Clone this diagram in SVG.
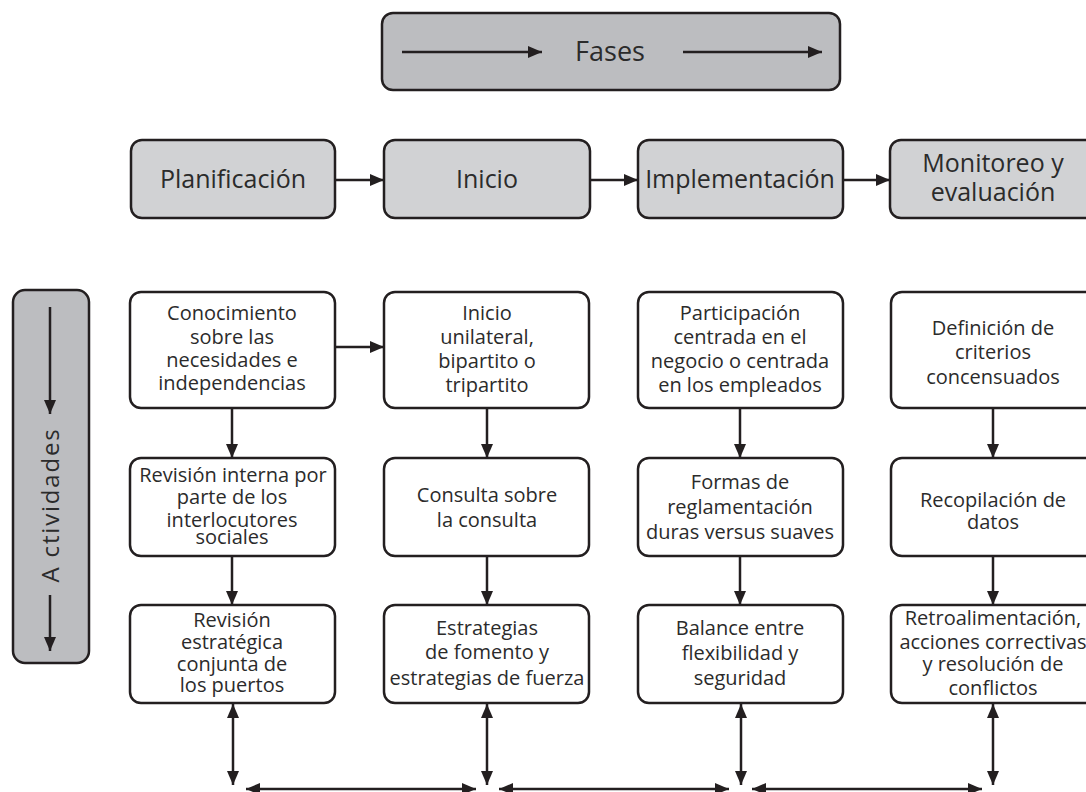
<svg xmlns="http://www.w3.org/2000/svg" width="1086" height="792" viewBox="0 0 1086 792">
  <defs>
    <marker id="head" markerUnits="userSpaceOnUse" markerWidth="15" markerHeight="13" refX="14" refY="6.5" orient="auto-start-reverse">
      <path d="M0,0.5 L14,6.5 L0,12.5 z" fill="#231f20"/>
    </marker>
    <style>
      .box { fill: #ffffff; stroke: #231f20; stroke-width: 2.5; }
      .phase { fill: #d1d2d4; stroke: #231f20; stroke-width: 2.5; }
      .banner { fill: #bcbdc0; stroke: #231f20; stroke-width: 2.5; }
      .t { font-family: "Open Sans", "Liberation Sans", sans-serif; fill: #2b2b2b; text-anchor: middle; }
      .big { font-size: 25px; }
      .small { font-size: 20px; }
      .link { stroke: #231f20; stroke-width: 2.5; fill: none; marker-end: url(#head); }
      .both { stroke: #231f20; stroke-width: 2.5; fill: none; marker-start: url(#head); marker-end: url(#head); }
    </style>
  </defs>

  <!-- Phase banner -->
  <g id="fases">
    <rect class="banner" x="382" y="13" width="458" height="77" rx="11"/>
    <line class="link" x1="402" y1="52" x2="542" y2="52"/>
    <line class="link" x1="683" y1="52" x2="822" y2="52"/>
    <text class="t" font-size="27" x="610" y="61">Fases</text>
  </g>

  <!-- Activities banner -->
  <g id="actividades">
    <rect class="banner" x="13" y="290" width="76" height="373" rx="12"/>
    <line class="link" x1="50" y1="307" x2="50" y2="414"/>
    <line class="link" x1="50" y1="595" x2="50" y2="651"/>
    <text class="t" font-size="24" letter-spacing="1.8" transform="translate(59,505) rotate(-90)">A ctividades</text>
  </g>

  <!-- Phases -->
  <g id="planificacion">
    <rect class="phase" x="131" y="140" width="204" height="78" rx="11"/>
    <text class="t big" x="233" y="188">Planificación</text>
  </g>
  <g id="inicio">
    <rect class="phase" x="384" y="140" width="206" height="78" rx="11"/>
    <text class="t big" x="487" y="188">Inicio</text>
  </g>
  <g id="implementacion">
    <rect class="phase" x="638" y="140" width="205" height="78" rx="11"/>
    <text class="t big" x="740" y="188">Implementación</text>
  </g>
  <g id="monitoreo">
    <rect class="phase" x="890" y="140" width="206" height="78" rx="11"/>
    <text class="t big" x="993" y="172">Monitoreo y</text>
    <text class="t big" x="993" y="201">evaluación</text>
  </g>

  <!-- Activities, row 1 -->
  <g id="conocimiento">
    <rect class="box" x="130" y="292" width="205" height="116" rx="11"/>
    <text class="t small" x="232" y="320">Conocimiento</text>
    <text class="t small" x="232" y="344">sobre las</text>
    <text class="t small" x="232" y="367">necesidades e</text>
    <text class="t small" x="232" y="390">independencias</text>
  </g>
  <g id="inicio-unilateral">
    <rect class="box" x="384" y="292" width="205" height="116" rx="11"/>
    <text class="t small" x="487" y="320">Inicio</text>
    <text class="t small" x="487" y="344">unilateral,</text>
    <text class="t small" x="487" y="368">bipartito o</text>
    <text class="t small" x="487" y="392">tripartito</text>
  </g>
  <g id="participacion">
    <rect class="box" x="638" y="292" width="205" height="116" rx="11"/>
    <text class="t small" x="740" y="320">Participación</text>
    <text class="t small" x="740" y="344">centrada en el</text>
    <text class="t small" x="740" y="368">negocio o centrada</text>
    <text class="t small" x="740" y="392">en los empleados</text>
  </g>
  <g id="definicion">
    <rect class="box" x="891" y="292" width="205" height="116" rx="11"/>
    <text class="t small" x="993" y="335">Definición de</text>
    <text class="t small" x="993" y="359">criterios</text>
    <text class="t small" x="993" y="384">concensuados</text>
  </g>

  <!-- Activities, row 2 -->
  <g id="revision-interna">
    <rect class="box" x="130" y="458" width="205" height="98" rx="11"/>
    <text class="t small" x="233" y="482">Revisión interna por</text>
    <text class="t small" x="232" y="504">parte de los</text>
    <text class="t small" x="232" y="527">interlocutores</text>
    <text class="t small" x="232" y="544">sociales</text>
  </g>
  <g id="consulta">
    <rect class="box" x="384" y="458" width="205" height="98" rx="11"/>
    <text class="t small" x="487" y="502">Consulta sobre</text>
    <text class="t small" x="487" y="527">la consulta</text>
  </g>
  <g id="formas">
    <rect class="box" x="638" y="458" width="205" height="98" rx="11"/>
    <text class="t small" x="740" y="489">Formas de</text>
    <text class="t small" x="740" y="514">reglamentación</text>
    <text class="t small" x="740" y="539">duras versus suaves</text>
  </g>
  <g id="recopilacion">
    <rect class="box" x="891" y="458" width="205" height="98" rx="11"/>
    <text class="t small" x="993" y="507">Recopilación de</text>
    <text class="t small" x="993" y="529">datos</text>
  </g>

  <!-- Activities, row 3 -->
  <g id="revision-estrategica">
    <rect class="box" x="130" y="605" width="205" height="98" rx="11"/>
    <text class="t small" x="232" y="627">Revisión</text>
    <text class="t small" x="232" y="649">estratégica</text>
    <text class="t small" x="232" y="671">conjunta de</text>
    <text class="t small" x="232" y="692">los puertos</text>
  </g>
  <g id="estrategias">
    <rect class="box" x="384" y="605" width="205" height="98" rx="11"/>
    <text class="t small" x="487" y="635">Estrategias</text>
    <text class="t small" x="487" y="659">de fomento y</text>
    <text class="t small" x="487" y="685">estrategias de fuerza</text>
  </g>
  <g id="balance">
    <rect class="box" x="638" y="605" width="205" height="98" rx="11"/>
    <text class="t small" x="740" y="635">Balance entre</text>
    <text class="t small" x="740" y="660">flexibilidad y</text>
    <text class="t small" x="740" y="685">seguridad</text>
  </g>
  <g id="retroalimentacion">
    <rect class="box" x="891" y="605" width="205" height="98" rx="11"/>
    <text class="t small" x="993" y="625">Retroalimentación,</text>
    <text class="t small" x="993" y="649">acciones correctivas</text>
    <text class="t small" x="993" y="671">y resolución de</text>
    <text class="t small" x="993" y="695">conflictos</text>
  </g>

  <!-- Connectors -->
  <g id="connectors">
    <line class="link" x1="336" y1="180" x2="384" y2="180"/>
    <line class="link" x1="590" y1="180" x2="638" y2="180"/>
    <line class="link" x1="843" y1="180" x2="890" y2="180"/>

    <line class="link" x1="336" y1="347" x2="384" y2="347"/>

    <line class="link" x1="232" y1="408" x2="232" y2="458"/>
    <line class="link" x1="487" y1="408" x2="487" y2="458"/>
    <line class="link" x1="740" y1="408" x2="740" y2="458"/>
    <line class="link" x1="993" y1="408" x2="993" y2="458"/>

    <line class="link" x1="232" y1="556" x2="232" y2="605"/>
    <line class="link" x1="487" y1="556" x2="487" y2="605"/>
    <line class="link" x1="740" y1="556" x2="740" y2="605"/>
    <line class="link" x1="993" y1="556" x2="993" y2="605"/>

    <line class="both" x1="233" y1="704" x2="233" y2="785"/>
    <line class="both" x1="487" y1="704" x2="487" y2="785"/>
    <line class="both" x1="741" y1="704" x2="741" y2="785"/>
    <line class="both" x1="993" y1="704" x2="993" y2="785"/>

    <line class="both" x1="246" y1="789" x2="476" y2="789"/>
    <line class="both" x1="499" y1="789" x2="729" y2="789"/>
    <line class="both" x1="752" y1="789" x2="982" y2="789"/>
  </g>
</svg>
